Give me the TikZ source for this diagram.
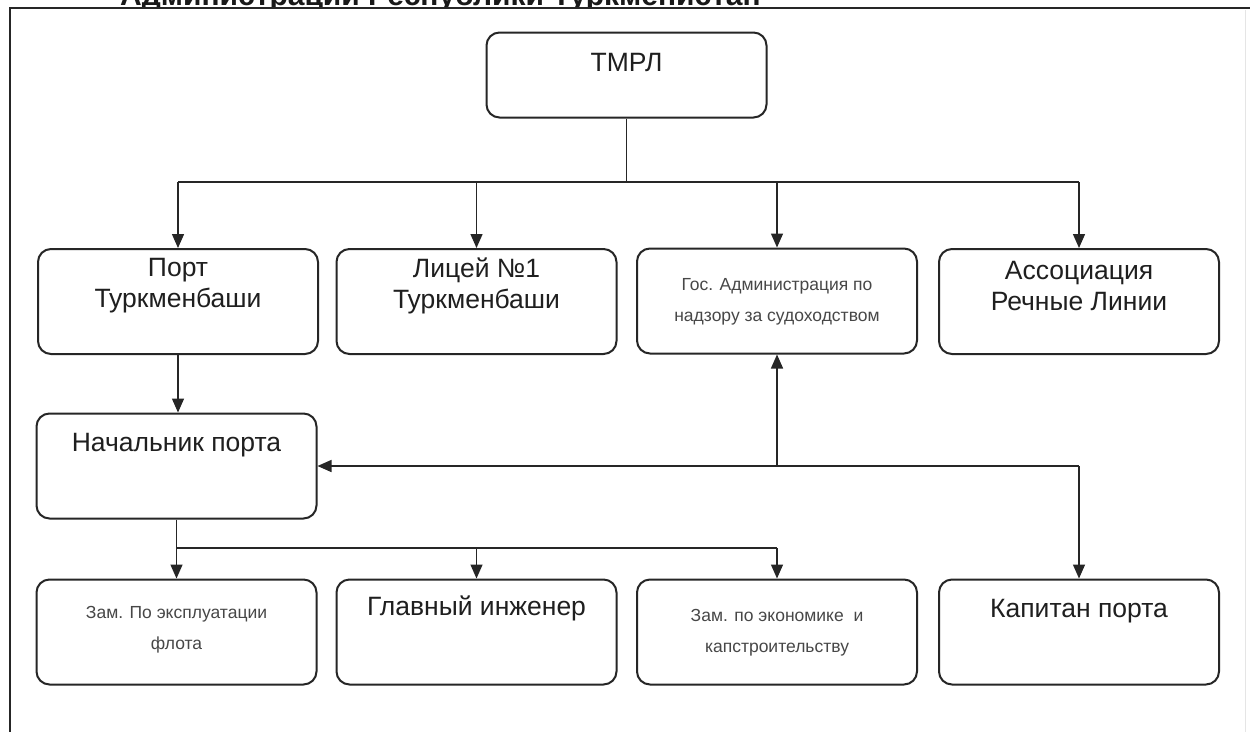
\documentclass[tikz,border=0pt]{standalone}
\usepackage{fontspec}
\setmainfont{Liberation Sans}
\usetikzlibrary{arrows.meta,calc}
\begin{document}
\begin{tikzpicture}[x=1pt,y=-1pt,
  box/.style={draw=black!85, line width=2pt, rounded corners=13pt, minimum width=280pt, minimum height=105pt, inner sep=0pt},
  big/.style={font=\fontsize{26.5}{31}\selectfont, text=black!88, align=center, inner sep=0pt},
  small/.style={font=\fontsize{17.5}{31}\selectfont, text=black!72, align=center, inner sep=0pt},
  conn/.style={draw=black!85, line width=1.4pt},
  arr/.style={conn, -{Triangle[length=14pt,width=12pt]}}]
\useasboundingbox (0,0) rectangle (1250,732);
\fill[white] (0,0) rectangle (1250,732);
% cut-off title
\begin{scope}
\clip (0,0) rectangle (1250,7);
\node[anchor=base west, inner sep=0pt, font=\bfseries\fontsize{30}{30}\selectfont, text=black!90] (title) at (120,5) {Администрации Республики Туркменистан};
\end{scope}
% frame
\draw[line width=2pt, black!85] (1250,8) -- (10,8) -- (10,732);
\draw[black!10, line width=1pt] (1245,10) -- (1245,732);
% boxes
\node[box, minimum height=85pt] (tmrl) at (626.5,75) {};
\node[big] (tmrlt) at (626.5,62) {ТМРЛ};
\node[box] (port) at (178,301.5) {};
\node[big] (portt) at (178,286) {Порт\\Туркменбаши};
\node[box] (licey) at (476.5,301.5) {};
\node[big] (liceyt) at (476.5,286) {Лицей №1\\Туркменбаши};
\node[box] (gos) at (777,301) {};
\node[small] (gost) at (777,302) {Гос. Администрация по\\надзору за судоходством};
\node[box] (assoc) at (1079,301.5) {};
\node[big] (assoct) at (1079,286) {Ассоциация\\Речные Линии};
\node[box] (nach) at (176.5,466) {};
\node[big] (nacht) at (176.5,445) {Начальник порта};
\node[box] (zam1) at (176.5,632) {};
\node[small] (zam1t) at (176.5,630) {Зам. По эксплуатации\\флота};
\node[box] (glav) at (476.5,632) {};
\node[big] (glavt) at (476.5,608) {Главный инженер};
\node[box] (zam2) at (777,632) {};
\node[small] (zam2t) at (777,633) {Зам. по экономике\ \ и\\капстроительству};
\node[box] (kap) at (1079,632) {};
\node[big] (kapt) at (1079,611) {Капитан порта};
% connectors
\coordinate (bus) at (0,182);
\coordinate (bus2) at (0,548);
\draw[conn] (tmrl.south) -- (tmrl.south |- bus);
\draw[conn] (port.north |- bus) -- (assoc.north |- bus);
\draw[arr] (port.north |- bus) -- (port.north);
\draw[arr] (licey.north |- bus) -- (licey.north);
\draw[arr] (gos.north |- bus) -- (gos.north);
\draw[arr] (assoc.north |- bus) -- (assoc.north);
\draw[arr] (port.south) -- (port.south |- nach.north);
\coordinate (kj) at (kap.north |- nach.east);
\draw[arr] (kj) -- (nach.east);
\draw[arr] (kj) -- (kap.north);
\draw[arr] (gos.south |- kj) -- (gos.south);
\draw[arr] (nach.south) -- (nach.south |- zam1.north);
\draw[conn] (nach.south |- bus2) -- (zam2.north |- bus2);
\draw[arr] (glav.north |- bus2) -- (glav.north);
\draw[arr] (zam2.north |- bus2) -- (zam2.north);
\end{tikzpicture}
\end{document}
